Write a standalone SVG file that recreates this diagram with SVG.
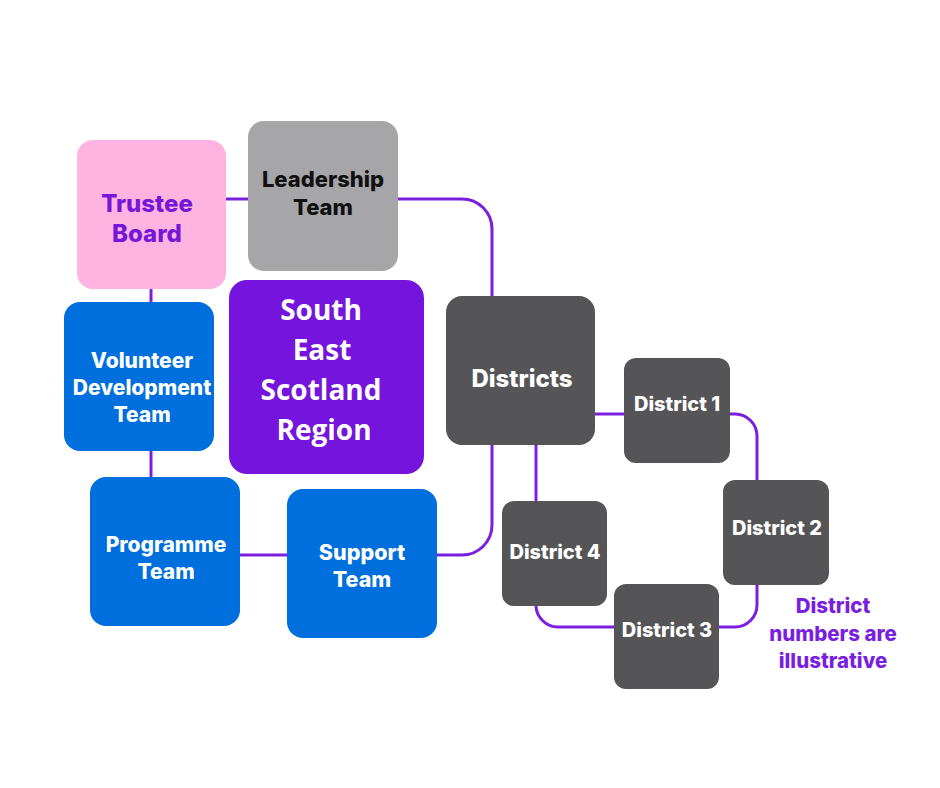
<svg xmlns="http://www.w3.org/2000/svg" width="940" height="788" viewBox="0 0 940 788">
<style>
.n{stroke:none}
.c{fill:none;stroke:#7A1FE0;stroke-width:3}
.t{font-family:Inter,"Noto Sans",sans-serif;font-weight:800;text-anchor:middle}
.w{fill:#ffffff}
.r{font-family:"Open Sans","Noto Sans",sans-serif;font-weight:700;font-size:28px;fill:#ffffff;text-anchor:middle}
</style>
<rect width="940" height="788" fill="#ffffff"/>
<g id="connectors">
<path class="c" d="M226,199 H248"/>
<path class="c" d="M398,199 H462 A30,30 0 0 1 492,229 V297"/>
<path class="c" d="M151,289 V302"/>
<path class="c" d="M151,451 V477"/>
<path class="c" d="M240,555 H287"/>
<path class="c" d="M437,555 H462 A30,30 0 0 0 492,525 V445"/>
<path class="c" d="M595,414 H624"/>
<path class="c" d="M536,445 V501"/>
<path class="c" d="M730,414 H735 A22,22 0 0 1 757,436 V480"/>
<path class="c" d="M757,585 V605 A22,22 0 0 1 735,627 H719"/>
<path class="c" d="M614,627 H558 A22,22 0 0 1 536,605 V606"/>
</g>
<g id="trustee">
<rect class="n" x="77" y="140" width="149" height="149" rx="16" fill="#FEB3E1"/>
<text class="t" x="147" y="212" font-size="24" fill="#7516D9">Trustee</text>
<text class="t" x="147" y="242" font-size="24" fill="#7516D9">Board</text>
</g>
<g id="leadership">
<rect class="n" x="248" y="121" width="150" height="150" rx="16" fill="#A6A6A9"/>
<text class="t" x="323" y="187" font-size="22" fill="#111111">Leadership</text>
<text class="t" x="323" y="215" font-size="22" fill="#111111">Team</text>
</g>
<g id="region">
<rect class="n" x="229" y="280" width="195" height="194" rx="18" fill="#7414DC"/>
<text class="r" x="321" y="320">South</text>
<text class="r" x="322" y="360">East</text>
<text class="r" x="321" y="400">Scotland</text>
<text class="r" x="324" y="440">Region</text>
</g>
<g id="volunteer">
<rect class="n" x="64" y="302" width="150" height="149" rx="16" fill="#006FDE"/>
<text class="t w" x="142" y="368" font-size="21">Volunteer</text>
<text class="t w" x="142" y="395" font-size="21">Development</text>
<text class="t w" x="142" y="422" font-size="21">Team</text>
</g>
<g id="programme">
<rect class="n" x="90" y="477" width="150" height="149" rx="16" fill="#006FDE"/>
<text class="t w" x="166" y="552" font-size="21">Programme</text>
<text class="t w" x="166" y="579" font-size="21">Team</text>
</g>
<g id="support">
<rect class="n" x="287" y="489" width="150" height="149" rx="16" fill="#006FDE"/>
<text class="t w" x="362" y="560" font-size="21.5">Support</text>
<text class="t w" x="362" y="587" font-size="21.5">Team</text>
</g>
<g id="districts">
<rect class="n" x="446" y="296" width="149" height="149" rx="16" fill="#555557"/>
<text class="t w" x="522" y="387" font-size="24">Districts</text>
</g>
<g id="district1">
<rect class="n" x="624" y="358" width="106" height="105" rx="12" fill="#555557"/>
<text class="t w" x="677" y="411" font-size="20">District 1</text>
</g>
<g id="district2">
<rect class="n" x="723" y="480" width="106" height="105" rx="12" fill="#555557"/>
<text class="t w" x="777" y="535" font-size="20">District 2</text>
</g>
<g id="district3">
<rect class="n" x="614" y="584" width="105" height="105" rx="12" fill="#555557"/>
<text class="t w" x="667" y="637" font-size="20">District 3</text>
</g>
<g id="district4">
<rect class="n" x="502" y="501" width="105" height="105" rx="12" fill="#555557"/>
<text class="t w" x="555" y="559" font-size="20">District 4</text>
</g>
<g id="note">
<text class="t" x="833" y="613" font-size="20.5" fill="#7A1FE0">District</text>
<text class="t" x="833" y="641" font-size="20.5" fill="#7A1FE0">numbers are</text>
<text class="t" x="833" y="668" font-size="20.5" fill="#7A1FE0">illustrative</text>
</g>
</svg>
